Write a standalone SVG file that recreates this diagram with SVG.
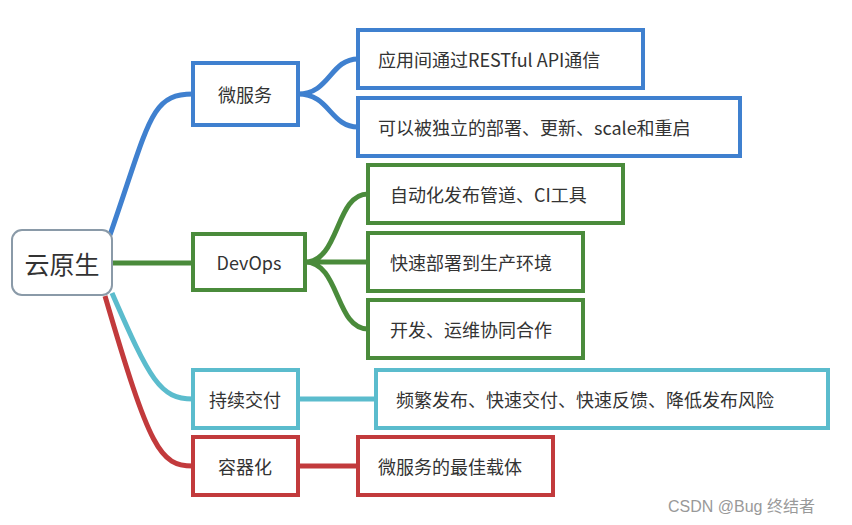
<svg xmlns="http://www.w3.org/2000/svg" width="852" height="525" viewBox="0 0 852 525">
<style>
.n{fill:#fff;stroke-width:4}
.t{font-family:"Noto Sans CJK SC","Liberation Sans",sans-serif;font-size:18px;fill:#333;dominant-baseline:central}
.c{fill:none;stroke-width:5}
.b{stroke:#3f80cf}.g{stroke:#4a8b3b}.l{stroke:#5bbccd}.r{stroke:#c23a3c}
</style>
<rect width="852" height="525" fill="#fff"/>
<g id="connectors">
<path class="c b" d="M110,235 C150,120 150,94 193,94"/>
<path class="c g" d="M112,263 H193"/>
<path class="c l" d="M112,293 C150,380 160,399 193,399"/>
<path class="c r" d="M105,296 C150,450 160,466 193,466"/>
<path class="c b" d="M298,94 C330,94 330,59 358,59 M298,94 C330,94 330,127 358,127"/>
<path class="c g" d="M305,262 C340,262 335,194 368,194 M305,262 H368 M305,262 C340,262 335,329 368,329"/>
<path class="c l" d="M298,399 H376"/>
<path class="c r" d="M298,466 H358"/>
</g>
<g id="root"><rect x="12" y="230" width="100" height="65" rx="10" fill="#fff" stroke="#8a9aa8" stroke-width="2"/><text class="t" x="62" y="263" text-anchor="middle" style="font-size:25px">云原生</text></g>
<g id="weifuwu"><rect class="n b" x="193" y="63" width="105" height="62"/><text class="t" x="245" y="94" text-anchor="middle">微服务</text></g>
<g id="b1"><rect class="n b" x="358" y="30" width="285" height="58"/><text class="t" x="378" y="59">应用间通过RESTful API通信</text></g>
<g id="b2"><rect class="n b" x="358" y="98" width="382" height="58"/><text class="t" x="378" y="127">可以被独立的部署、更新、scale和重启</text></g>
<g id="devops"><rect class="n g" x="193" y="234" width="112" height="56"/><text class="t" x="249" y="262" text-anchor="middle">DevOps</text></g>
<g id="g1"><rect class="n g" x="368" y="165" width="255" height="58"/><text class="t" x="390" y="194">自动化发布管道、CI工具</text></g>
<g id="g2"><rect class="n g" x="368" y="233" width="215" height="58"/><text class="t" x="390" y="262">快速部署到生产环境</text></g>
<g id="g3"><rect class="n g" x="368" y="300" width="215" height="58"/><text class="t" x="390" y="329">开发、运维协同合作</text></g>
<g id="cd"><rect class="n l" x="193" y="370" width="105" height="58"/><text class="t" x="245" y="399" text-anchor="middle">持续交付</text></g>
<g id="l1"><rect class="n l" x="376" y="370" width="452" height="58"/><text class="t" x="396" y="399">频繁发布、快速交付、快速反馈、降低发布风险</text></g>
<g id="rq"><rect class="n r" x="193" y="437" width="105" height="58"/><text class="t" x="245" y="466" text-anchor="middle">容器化</text></g>
<g id="r1"><rect class="n r" x="358" y="437" width="195" height="58"/><text class="t" x="378" y="466">微服务的最佳载体</text></g>
<text x="668" y="512" font-family="Liberation Sans,Noto Sans CJK SC,sans-serif" font-size="16" fill="#999">CSDN @Bug 终结者</text>
</svg>
